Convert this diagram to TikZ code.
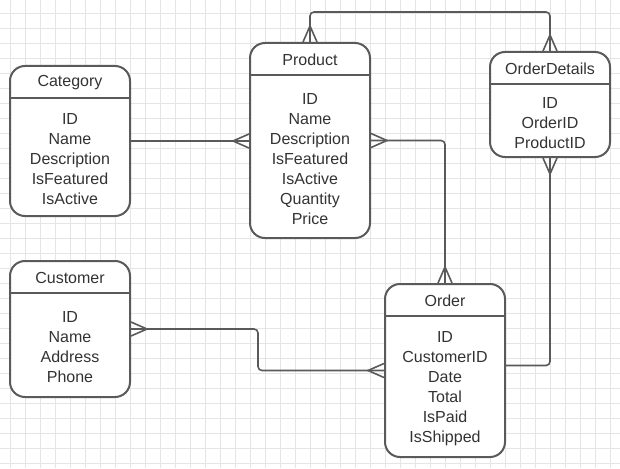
\documentclass[tikz,border=0pt]{standalone}
\usepackage{fontspec}
\setmainfont{Liberation Sans}
\usetikzlibrary{calc}
\definecolor{edgegray}{HTML}{5A5A5A}
\definecolor{textgray}{HTML}{333333}

\begin{document}
\begin{tikzpicture}[x=1pt,y=-1pt]
\tikzstyle{entity}=[draw=edgegray,line width=2pt,rounded corners=15pt,fill=white,minimum width=120pt,inner sep=0pt]
\tikzstyle{field}=[text=textgray,font=\fontsize{16}{20}\selectfont,align=center,inner sep=0pt]
\tikzstyle{link}=[draw=edgegray,line width=1.6pt,rounded corners=4pt]
\tikzstyle{gridline}=[gray!20,line width=0.6pt]
\tikzset{many/.pic={\draw[edgegray,line width=1.6pt] (0pt,-7pt) -- (16pt,0pt) -- (0pt,7pt);}}

\fill[white] (0,0) rectangle (620,468);
\useasboundingbox (0,0) rectangle (620,468);
\foreach \x in {10,25,...,610} \draw[gridline] (\x,0) -- (\x,468);
\foreach \y in {13,28,...,463} \draw[gridline] (0,\y) -- (620,\y);

\foreach \name/\title/\point/\h/\fields in {
	category/Category/{70,141}/150/{ID\\Name\\Description\\IsFeatured\\IsActive},
	product/Product/{310,140.5}/195/{ID\\Name\\Description\\IsFeatured\\IsActive\\Quantity\\Price},
	orderdetails/OrderDetails/{550,104.5}/105/{ID\\OrderID\\ProductID},
	customer/Customer/{70,329}/136/{ID\\Name\\Address\\Phone},
	order/Order/{445,370.5}/173/{ID\\CustomerID\\Date\\Total\\IsPaid\\IsShipped}}
{
	\node[entity,minimum height=\h pt] (\name) at (\point) {};
	\draw[edgegray,line width=2pt] ([yshift=-33pt]\name.north west) -- ([yshift=-33pt]\name.north east);
	\node[field] (\name-title) at ([yshift=-18pt]\name.north) {\title};
	\node[field,yshift=-2pt] (\name-body) at ($([yshift=-33pt]\name.north)!0.5!(\name.south)$) {\fields};
}

\draw[link] (category.east) -- (category.east -| product.west);
\pic[rotate=180] at (category.east -| product.west) {many};
\draw[link] (product.east) -| (order.north);
\pic at (product.east) {many};
\pic[rotate=90] at (order.north) {many};
\draw[link] (product.north) -- ++(0,-30) -| (orderdetails.north);
\pic[rotate=90] at (product.north) {many};
\pic[rotate=90] at (orderdetails.north) {many};
\draw[link] (orderdetails.south) |- ([yshift=5pt]order.east);
\pic[rotate=-90] at (orderdetails.south) {many};
\draw[link] (customer.east) -- ++(127,0) |- (order.west);
\pic at (customer.east) {many};
\pic[rotate=180] at (order.west) {many};
\end{tikzpicture}
\end{document}
